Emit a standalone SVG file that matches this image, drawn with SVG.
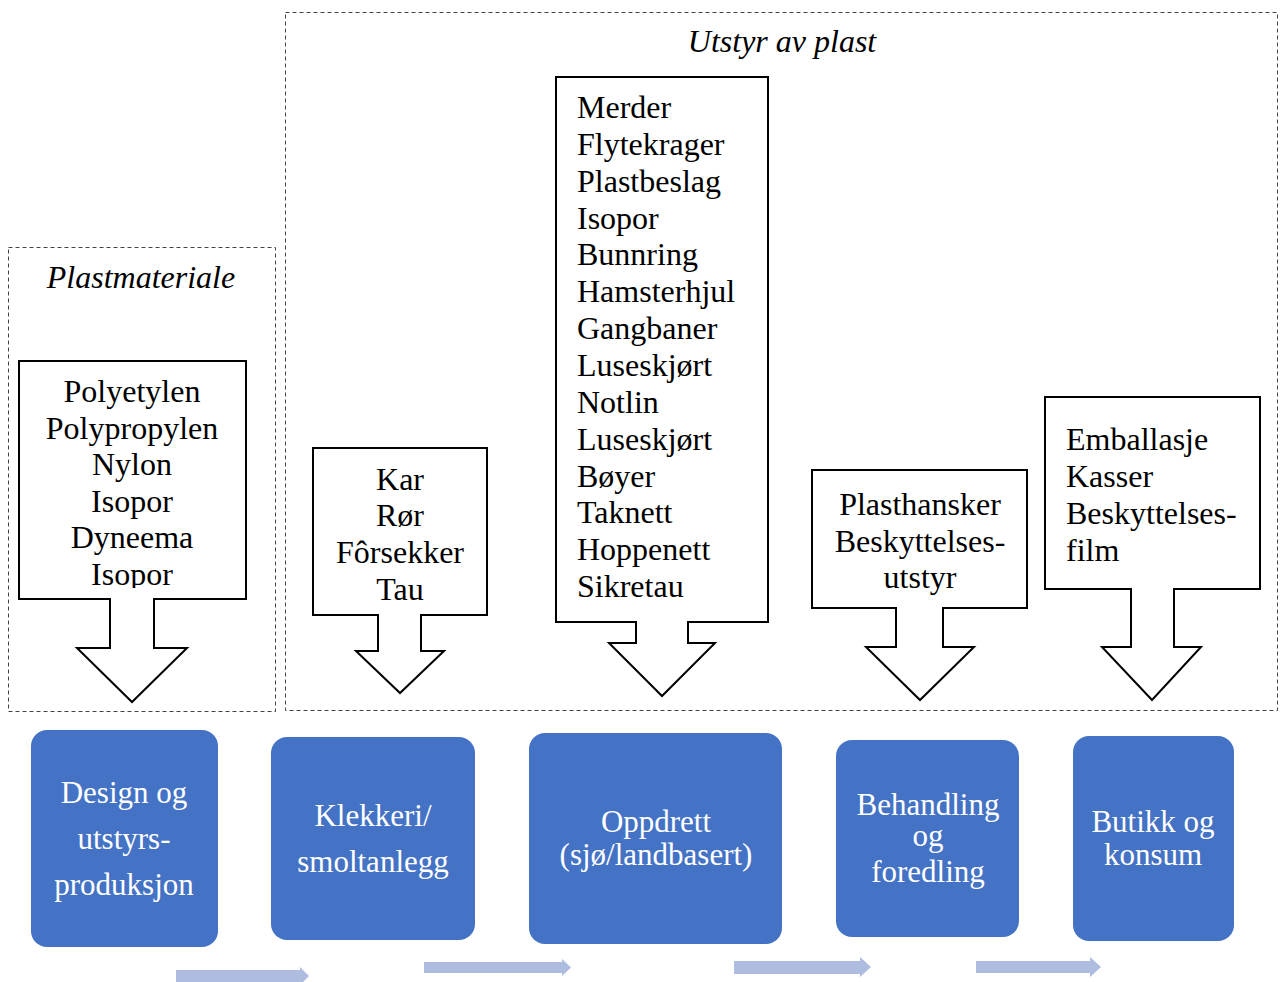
<svg xmlns="http://www.w3.org/2000/svg" width="1281" height="982" viewBox="0 0 1281 982">
  <style>
    .frame { fill: none; stroke: #444; stroke-width: 1; stroke-dasharray: 4 3; }
    .callout { fill: #fff; stroke: #000; stroke-width: 2; stroke-linejoin: miter; }
    .title { font-family: "Liberation Serif", "Times New Roman", serif; font-style: italic; font-size: 32px; fill: #000; text-anchor: middle; }
    .item { font-family: "Liberation Serif", "Times New Roman", serif; font-size: 32px; fill: #000; }
    .mid { text-anchor: middle; }
    .stage { fill: #4472C4; }
    .stage-text { font-family: "Liberation Serif", "Times New Roman", serif; font-size: 31px; fill: #fff; text-anchor: middle; }
    .flow { fill: #AEBCDF; }
  </style>
  <defs>
    <clipPath id="clip-materials"><rect x="19" y="362" width="226" height="226"/></clipPath>
  </defs>

  <rect width="1281" height="982" fill="#fff"/>

  <!-- group frames -->
  <g id="frame-plastmateriale">
    <rect class="frame" x="8.5" y="247.5" width="267" height="464"/>
    <text class="title" x="141" y="288">Plastmateriale</text>
  </g>
  <g id="frame-utstyr">
    <rect class="frame" x="285.5" y="12.5" width="992" height="698"/>
    <text class="title" x="782" y="52">Utstyr av plast</text>
  </g>

  <!-- down-arrow callouts -->
  <g id="callout-materials">
    <path class="callout" d="M19,361 H246 V599 H154 V648 H187 L132,702 L77,648 H110 V599 H19 Z"/>
    <g clip-path="url(#clip-materials)">
      <text class="item mid" x="132" y="402">Polyetylen</text>
      <text class="item mid" x="132" y="438.5">Polypropylen</text>
      <text class="item mid" x="132" y="475">Nylon</text>
      <text class="item mid" x="132" y="511.5">Isopor</text>
      <text class="item mid" x="132" y="548">Dyneema</text>
      <text class="item mid" x="132" y="584.5">Isopor</text>
    </g>
  </g>

  <g id="callout-hatchery">
    <path class="callout" d="M313,448 H487 V615 H421 V651 H444 L400,693 L356,651 H378 V615 H313 Z"/>
    <text class="item mid" x="400" y="490">Kar</text>
    <text class="item mid" x="400" y="526">Rør</text>
    <text class="item mid" x="400" y="563">Fôrsekker</text>
    <text class="item mid" x="400" y="600">Tau</text>
  </g>

  <g id="callout-farming">
    <path class="callout" d="M556,77 H768 V622 H688 V643 H715 L662,696 L609,643 H636 V622 H556 Z"/>
    <text class="item" x="577" y="118">Merder</text>
    <text class="item" x="577" y="155">Flytekrager</text>
    <text class="item" x="577" y="192">Plastbeslag</text>
    <text class="item" x="577" y="229">Isopor</text>
    <text class="item" x="577" y="265">Bunnring</text>
    <text class="item" x="577" y="302">Hamsterhjul</text>
    <text class="item" x="577" y="339">Gangbaner</text>
    <text class="item" x="577" y="376">Luseskjørt</text>
    <text class="item" x="577" y="413">Notlin</text>
    <text class="item" x="577" y="450">Luseskjørt</text>
    <text class="item" x="577" y="487">Bøyer</text>
    <text class="item" x="577" y="523">Taknett</text>
    <text class="item" x="577" y="560">Hoppenett</text>
    <text class="item" x="577" y="597">Sikretau</text>
  </g>

  <g id="callout-processing">
    <path class="callout" d="M812,470 H1027 V608 H943 V647 H974 L920,700 L866,647 H896 V608 H812 Z"/>
    <text class="item mid" x="920" y="515">Plasthansker</text>
    <text class="item mid" x="920" y="552">Beskyttelses-</text>
    <text class="item mid" x="920" y="588">utstyr</text>
  </g>

  <g id="callout-retail">
    <path class="callout" d="M1045,397 H1260 V589 H1174 V647 H1201 L1152,700 L1102,647 H1131 V589 H1045 Z"/>
    <text class="item" x="1066" y="450">Emballasje</text>
    <text class="item" x="1066" y="487">Kasser</text>
    <text class="item" x="1066" y="524">Beskyttelses-</text>
    <text class="item" x="1066" y="561">film</text>
  </g>

  <!-- value-chain stages -->
  <g id="stage-design">
    <rect class="stage" x="31" y="730" width="187" height="217" rx="16"/>
    <text class="stage-text" x="124" y="803">Design og</text>
    <text class="stage-text" x="124" y="849">utstyrs-</text>
    <text class="stage-text" x="124" y="895">produksjon</text>
  </g>
  <g id="stage-hatchery">
    <rect class="stage" x="271" y="737" width="204" height="203" rx="16"/>
    <text class="stage-text" x="373" y="826">Klekkeri/</text>
    <text class="stage-text" x="373" y="872">smoltanlegg</text>
  </g>
  <g id="stage-farming">
    <rect class="stage" x="529" y="733" width="253" height="211" rx="16"/>
    <text class="stage-text" x="656" y="832">Oppdrett</text>
    <text class="stage-text" x="656" y="865">(sjø/landbasert)</text>
  </g>
  <g id="stage-processing">
    <rect class="stage" x="836" y="740" width="183" height="197" rx="16"/>
    <text class="stage-text" x="928" y="815">Behandling</text>
    <text class="stage-text" x="928" y="846">og</text>
    <text class="stage-text" x="928" y="882">foredling</text>
  </g>
  <g id="stage-retail">
    <rect class="stage" x="1073" y="736" width="161" height="205" rx="16"/>
    <text class="stage-text" x="1153" y="832">Butikk og</text>
    <text class="stage-text" x="1153" y="865">konsum</text>
  </g>

  <!-- flow arrows between stages -->
  <g id="connectors">
    <path class="flow" d="M176,970 H300 V967 L309,976 L300,985 V982 H176 Z"/>
    <path class="flow" d="M424,962 H562 V959 L571,967.5 L562,976 V973 H424 Z"/>
    <path class="flow" d="M734,961 H860 V957 L871,967 L860,977 V974 H734 Z"/>
    <path class="flow" d="M976,961 H1090 V957 L1101,967 L1090,977 V973 H976 Z"/>
  </g>
</svg>
